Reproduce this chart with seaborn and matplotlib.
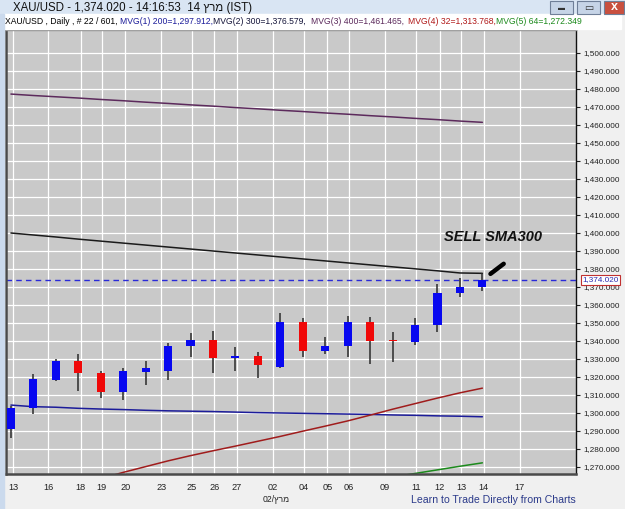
import pandas as pd
import seaborn as sns
import matplotlib.pyplot as plt
import matplotlib.transforms as mtransforms
from matplotlib.patches import Rectangle

# DATA -----------------------------------------------------------------------------------------------
opens = [1291.1, 1302.9, 1318.3, 1329.1, 1322.2, 1311.7, 1322.9, 1323.5, 1337.0, 1340.7, 1330.6,
         1331.7, 1325.7, 1350.7, 1334.6, 1337.2, 1350.7, 1340.6, 1339.6, 1349.1, 1366.8, 1369.9]
highs = [1304.0, 1321.7, 1330.2, 1332.8, 1323.3, 1325.0, 1328.7, 1339.1, 1344.6, 1345.7, 1336.8,
         1333.7, 1355.4, 1352.6, 1342.1, 1353.9, 1353.2, 1345.0, 1352.8, 1371.5, 1374.8, 1377.6]
lows = [1286.1, 1299.4, 1317.9, 1312.2, 1308.5, 1307.2, 1315.6, 1318.3, 1330.9, 1322.1, 1323.5,
        1319.7, 1325.2, 1331.3, 1332.8, 1330.9, 1327.2, 1328.3, 1337.8, 1345.2, 1364.3, 1367.6]
closes = [1302.9, 1318.7, 1328.9, 1322.2, 1311.7, 1323.2, 1324.8, 1337.4, 1340.7, 1330.6, 1331.7,
          1326.7, 1350.7, 1334.6, 1337.2, 1350.7, 1340.0, 1340.1, 1349.1, 1366.8, 1370.2, 1374.02]

ma200 = [1304.4, 1303.5, 1303.2, 1302.6, 1302.2, 1301.9, 1301.5, 1301.2, 1301.0, 1300.8, 1300.5,
         1300.2, 1300.0, 1299.8, 1299.6, 1299.4, 1299.2, 1298.9, 1298.7, 1298.4, 1298.2, 1297.9]
ma300 = [1400.0, 1398.9, 1397.8, 1396.6, 1395.5, 1394.4, 1393.3, 1392.2, 1391.1, 1390.0, 1388.9,
         1387.8, 1386.7, 1385.6, 1384.5, 1383.4, 1382.3, 1381.2, 1380.1, 1379.0, 1377.8, 1377.6]
ma400 = [1477.2, 1476.4, 1475.7, 1475.0, 1474.2, 1473.5, 1472.7, 1472.0, 1471.2, 1470.5, 1469.7,
         1469.0, 1468.2, 1467.5, 1466.7, 1466.0, 1465.2, 1464.5, 1463.7, 1463.0, 1462.2, 1461.5]
ma32 = [None, None, None, None, 1263.5, 1267.0, 1270.2, 1273.4, 1276.3, 1279.0, 1281.6,
        1284.3, 1287.0, 1289.9, 1292.7, 1295.6, 1298.8, 1302.1, 1305.2, 1308.3, 1311.2, 1313.8]
ma64 = [None] * 17 + [1264.4, 1266.4, 1268.4, 1270.4, 1272.3]

last_price = 1374.02
day_labels = ['13', '16', '18', '19', '20', '23', '25', '26', '27', '02', '04', '05', '06',
              '09', '11', '12', '13', '14', '17']
price_ticks = list(range(1270, 1501, 10))

title_text = 'XAU/USD - 1,374.020 - 14:16:53  14 {} (IST)'
month_he = 'מרץ'
info_parts = ['XAU/USD , Daily , # 22 / 601,', 'MVG(1) 200=1,297.912,', 'MVG(2) 300=1,376.579,',
              'MVG(3) 400=1,461.465,', 'MVG(4) 32=1,313.768,', 'MVG(5) 64=1,272.349']
annotation = 'SELL SMA300'
footer = 'Learn to Trade Directly from Charts'

# LAYOUT / STYLE --------------------------------------------------------------------------------------
W, H = 625, 509
sns.set_style('white')
plt.rcParams['font.family'] = ['Liberation Sans', 'DejaVu Sans']

ma_colors = {'MVG(1)': '#1c1c9a', 'MVG(2)': '#1a1a1a', 'MVG(3)': '#5c2a5c',
             'MVG(4)': '#a01c1c', 'MVG(5)': '#1c8a1c'}
info_colors = ['#000000', '#1c1c9a', '#15153a', '#5c2a5c', '#b01818', '#1c8a1c']
info_x = [5, 120, 213, 311, 408, 496]
tick_pos = [0.1, 1.67, 3.1, 4.05, 5.1, 6.7, 8.05, 9.05, 10.05, 11.67, 13.05, 14.1, 15.05,
            16.67, 18.05, 19.1, 20.05, 21.05, 22.67]


def fx(x):
    return x / W


def fy(y):
    return 1 - y / H


fig = plt.figure(figsize=(W / 100, H / 100), dpi=100, facecolor='#f0f0f0')

# window chrome
fig.patches.append(Rectangle((0, fy(14)), 1, 1 - fy(14), transform=fig.transFigure,
                             color='#d9e5f3', zorder=0))
fig.patches.append(Rectangle((fx(4), fy(29)), fx(621) - fx(4), fy(14) - fy(29),
                             transform=fig.transFigure, color='white', zorder=0))
fig.patches.append(Rectangle((0, 0), fx(4), fy(14), transform=fig.transFigure,
                             color='#cbdaed', zorder=0))
for (x0, x1), fc in zip([(550, 573), (577, 600), (604, 624)], ['#c6d4e7', '#c6d4e7', '#c9503f']):
    fig.patches.append(Rectangle((fx(x0), fy(14)), fx(x1) - fx(x0), fy(1) - fy(14),
                                 transform=fig.transFigure, facecolor=fc,
                                 edgecolor='#6f7f98', lw=0.8, zorder=1))
fig.text(fx(561.5), fy(9), '▬', fontsize=5, ha='center', va='center', color='#333333')
fig.text(fx(588.5), fy(7.5), '▭', fontsize=7, ha='center', va='center', color='#333333')
fig.text(fx(614), fy(7.5), 'x', fontsize=9, fontweight='bold', ha='center', va='center',
         color='white')

fig.text(fx(13), fy(7.5), title_text.format(month_he[::-1]), fontsize=8.3, ha='left',
         va='center', color='#111111')
for s, c, x in zip(info_parts, info_colors, info_x):
    fig.text(fx(x), fy(22), s, fontsize=6.25, ha='left', va='center', color=c)

# MAIN AXES ----------------------------------------------------------------------------------------------
ax = fig.add_axes([fx(6), fy(474), fx(576) - fx(6), fy(30) - fy(474)])
ax.set_facecolor('#c9c9c9')
ax.set_axisbelow(True)

idx = list(range(len(opens)))
candles = pd.DataFrame({'idx': idx, 'open': opens, 'high': highs, 'low': lows, 'close': closes})
candles['up'] = candles['close'] >= candles['open']
candles['bottom'] = candles[['open', 'close']].min(axis=1)
candles['height'] = (candles['close'] - candles['open']).abs().clip(lower=0.7)

ax.vlines(candles['idx'], candles['low'], candles['high'], color='#2a2a2a', lw=1.1, zorder=3)
ax.bar(candles['idx'], candles['height'], bottom=candles['bottom'], width=0.36,
       color=['#0808f0' if u else '#f00808' for u in candles['up']], lw=0, zorder=4)

ma = pd.DataFrame({'idx': idx, 'MVG(1)': ma200, 'MVG(2)': ma300, 'MVG(3)': ma400,
                   'MVG(4)': ma32, 'MVG(5)': ma64})
ma_long = ma.melt(id_vars='idx', var_name='line', value_name='value').dropna()
ma_long['value'] = ma_long['value'].astype(float)
sns.lineplot(data=ma_long, x='idx', y='value', hue='line', palette=ma_colors, lw=1.1,
             legend=False, ax=ax, zorder=2)

ax.axhline(last_price, color='#2a2ad8', lw=1.0, ls=(0, (4, 3)), zorder=2)

ax.set_xlim(-0.22, 25.17)
ax.set_ylim(1266.1, 1512.8)
ax.set_xticks(tick_pos)
ax.set_xticklabels(day_labels, fontsize=6.6)
ax.set_yticks(price_ticks)
ax.set_yticklabels([f'{v:,.3f}' for v in price_ticks], fontsize=5.9)
ax.yaxis.tick_right()
ax.tick_params(axis='y', direction='out', length=3, width=0.8, pad=2, colors='#222222')
ax.tick_params(axis='x', direction='out', length=2.5, width=0.8, pad=4, colors='#222222')
ax.set_xlabel('')
ax.set_ylabel('')
ax.grid(True, color='white', lw=0.9)

for side in ['left', 'bottom']:
    ax.spines[side].set_color('#4a4a4a')
    ax.spines[side].set_linewidth(1.8)
ax.spines['top'].set_color('#8a8a8a')
ax.spines['top'].set_linewidth(1.0)
ax.spines['right'].set_color('#111111')
ax.spines['right'].set_linewidth(1.0)

# last price marker on the axis
trans = mtransforms.blended_transform_factory(ax.transAxes, ax.transData)
ax.text(1.011, last_price, f'{last_price:,.3f}', transform=trans, fontsize=5.9, color='#2a2ab0',
        ha='left', va='center', zorder=6, clip_on=False,
        bbox=dict(boxstyle='square,pad=0.2', facecolor='white', edgecolor='#c03030', lw=0.8))

# annotation
ax.text(19.29, 1397.8, annotation, fontsize=10.5, fontweight='bold', style='italic',
        ha='left', va='center', color='#111111', zorder=6)
ax.plot([21.36, 21.95], [1377.3, 1382.9], color='black', lw=3.2, solid_capstyle='round', zorder=6)

fig.text(fx(263), fy(499), '02/' + month_he[::-1], fontsize=6.2, ha='left', va='center',
         color='#222222')
fig.text(fx(576), fy(500), footer, fontsize=7.6, ha='right', va='center', color='#2b3a8a')

fig.savefig('out.png', dpi=100, facecolor=fig.get_facecolor())
